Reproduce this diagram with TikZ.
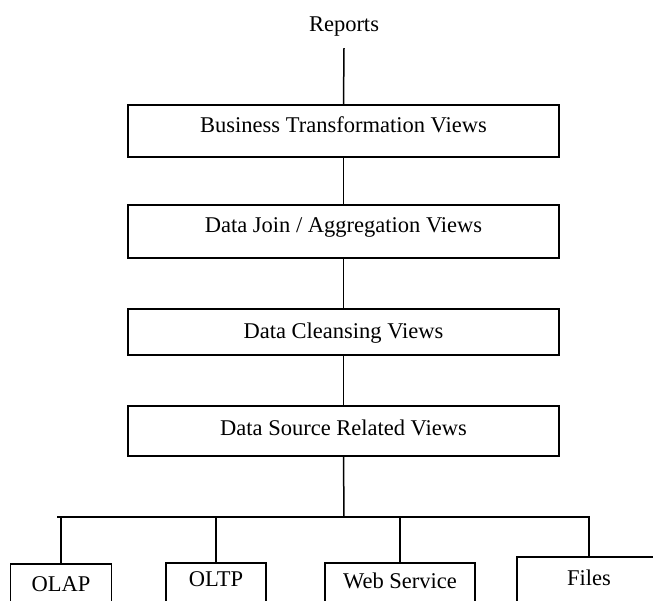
\documentclass[tikz,border=0pt]{standalone}
\usepackage{fontspec}
\setmainfont{Liberation Serif}
\usepackage{tikz}

\tikzset{
	layer/.style={draw, line width=1.5pt, minimum width=431pt, inner sep=0pt, text height=15pt},
	source/.style={draw, line width=1.5pt, anchor=north, inner sep=0pt, text depth=40pt},
	wire/.style={line width=1.5pt}
}

\begin{document}
\begin{tikzpicture}[x=1pt, y=-1pt, font=\fontsize{22.5}{27}\selectfont]
					% Frame of the picture
					\useasboundingbox (0,0) rectangle (653,601);
					\clip (0,0) rectangle (653,601);
					% Top label
					\node[anchor=base, inner sep=0pt, text depth=16pt] (reports) at (344,32) {Reports};
					% Stack of views
					\node[layer, minimum height=52pt, text depth=11pt] (biz) at (343.5,131) {Business Transformation Views};
					\node[layer, minimum height=53pt, text depth=12pt] (join) at (343.5,231.5) {Data Join / Aggregation Views};
					\node[layer, minimum height=46pt, text depth=1pt] (clean) at (343.5,332) {Data Cleansing Views};
					\node[layer, minimum height=50pt, text depth=7pt] (src) at (343.5,431) {Data Source Related Views};
					\foreach \a/\b in {reports/biz, biz/join, join/clean, clean/src}
						\draw[wire] (\a.south) -- (\b.north);
					% Sources
					\node[source, minimum width=101pt, text height=28pt] (olap) at (61,563) {OLAP};
					\node[source, minimum width=100pt, text height=24pt] (oltp) at (216,562) {OLTP};
					\node[source, minimum width=150pt, text height=26pt] (web) at (400,562) {Web Service};
					\node[source, minimum width=144pt, text height=29pt] (files) at (589,556) {Files};
					% Bus
					\coordinate (bus) at (344,517);
					\coordinate (busL) at (57,517);
					\coordinate (busR) at (590,517);
					\draw[wire] (src.south) -- (bus);
					\draw[wire] (busL) -- (busR);
					\foreach \n in {olap,oltp,web,files}
						\draw[wire] (\n.north) -- (\n.north |- bus);
				\end{tikzpicture}
\end{document}
